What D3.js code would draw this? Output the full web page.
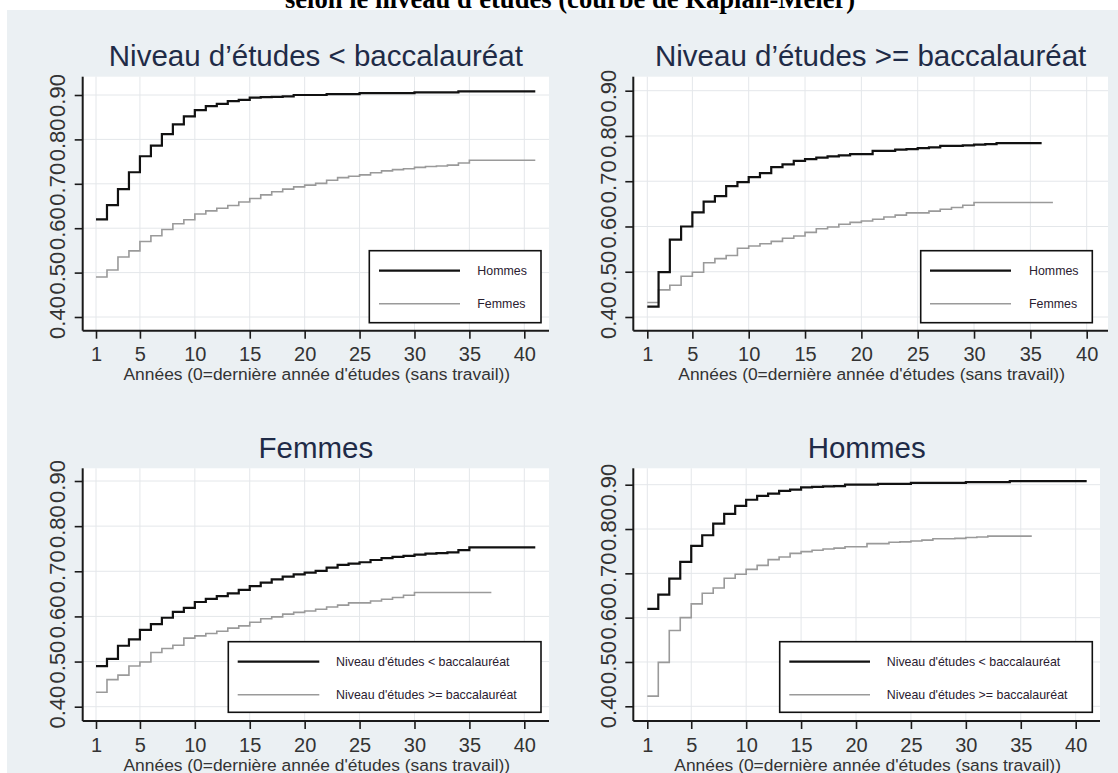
<!DOCTYPE html>
<html><head><meta charset="utf-8">
<script src="https://cdn.jsdelivr.net/npm/d3@7"></script>
<style>
html,body{margin:0;padding:0;background:#fff;}
svg{display:block;}
</style></head>
<body>
<svg id="chart" width="1118" height="773"></svg>
<script>
// ---------- DATA ----------
const mainTitle = "selon le niveau d'études (courbe de Kaplan-Meier)";
const panelTitles = ["Niveau d’études < baccalauréat", "Niveau d’études >= baccalauréat", "Femmes", "Hommes"];
const xAxisTitle = "Années (0=dernière année d'études (sans travail))";
const xTicks = [1, 5, 10, 15, 20, 25, 30, 35, 40];
const yTicks = [0.40, 0.50, 0.60, 0.70, 0.80, 0.90];
const yTickLabels = ["0.40", "0.50", "0.60", "0.70", "0.80", "0.90"];
const legendSexe = ["Hommes", "Femmes"];
const legendNiveau = ["Niveau d'études < baccalauréat", "Niveau d'études >= baccalauréat"];

// Kaplan-Meier estimates at years 1..N
const hommesInf = [0.620,0.652,0.688,0.726,0.762,0.786,0.812,0.834,0.852,0.866,
  0.875,0.880,0.886,0.889,0.894,0.895,0.896,0.897,0.900,0.900,
  0.900,0.902,0.902,0.902,0.904,0.904,0.904,0.904,0.904,0.906,
  0.906,0.906,0.906,0.908,0.908,0.908,0.908,0.908,0.908,0.908,0.908];
const hommesSup = [0.423,0.499,0.571,0.600,0.631,0.655,0.667,0.689,0.698,0.709,
  0.718,0.731,0.737,0.745,0.749,0.752,0.755,0.757,0.760,0.760,
  0.767,0.767,0.770,0.771,0.773,0.775,0.778,0.778,0.779,0.781,
  0.782,0.784,0.784,0.784,0.784,0.784];
const femmesInf = [0.490,0.506,0.535,0.549,0.570,0.583,0.597,0.610,0.619,0.632,
  0.639,0.645,0.651,0.659,0.667,0.675,0.682,0.688,0.693,0.697,
  0.701,0.708,0.714,0.717,0.720,0.725,0.729,0.732,0.734,0.737,
  0.739,0.740,0.742,0.747,0.753,0.753,0.753,0.753,0.753,0.753,0.753];
const femmesSup = [0.432,0.460,0.470,0.490,0.499,0.520,0.529,0.536,0.552,0.557,
  0.562,0.567,0.574,0.579,0.587,0.595,0.599,0.605,0.609,0.612,
  0.616,0.621,0.625,0.630,0.630,0.634,0.638,0.642,0.647,0.653,
  0.653,0.653,0.653,0.653,0.653,0.653,0.653];

// ---------- LAYOUT ----------
const panels = [
  {title: panelTitles[0], black: hommesInf, gray: femmesInf, legend: legendSexe,
   ax: 82.7, top: 76.7, right: 549, bottom: 330.7, x1: 96, x40: 524.3, y40: 317, y90: 95,
   lg: {x0: 369.3, x1: 541, y0: 250.7, y1: 322.7, l0: 379, l1: 460, tx: 477.3}},
  {title: panelTitles[1], black: hommesSup, gray: femmesSup, legend: legendSexe,
   ax: 633.3, top: 76.7, right: 1108, bottom: 330.7, x1: 647.3, x40: 1086.7, y40: 317, y90: 90.7,
   lg: {x0: 920.7, x1: 1092.3, y0: 250.7, y1: 322.7, l0: 930, l1: 1011, tx: 1029}},
  {title: panelTitles[2], black: femmesInf, gray: femmesSup, legend: legendNiveau,
   ax: 82.7, top: 468.3, right: 549, bottom: 721, x1: 96, x40: 524.3, y40: 706.7, y90: 481,
   lg: {x0: 228.3, x1: 541, y0: 641.7, y1: 712.3, l0: 237.7, l1: 319.3, tx: 336}},
  {title: panelTitles[3], black: hommesInf, gray: hommesSup, legend: legendNiveau,
   ax: 633.3, top: 468.3, right: 1100, bottom: 721, x1: 647.3, x40: 1075.7, y40: 706.3, y90: 484.7,
   lg: {x0: 789.3 - 9.6, x1: 1092.3, y0: 641.7, y1: 712.3, l0: 789.3, l1: 870, tx: 886.7}}
];

const svg = d3.select("#chart");
const SANS = "'Liberation Sans', Arial, Helvetica, sans-serif";

// background
svg.append("rect").attr("x", 7).attr("y", 10).attr("width", 1118 - 7).attr("height", 773 - 10).attr("fill", "#ebf0f3");

// main title (cut at top)
svg.append("text").attr("x", 570).attr("y", 7.5).attr("text-anchor", "middle")
  .attr("font-family", "'Liberation Serif', 'Times New Roman', serif").attr("font-weight", "bold")
  .attr("font-size", 26.6).attr("fill", "#000").text(mainTitle);

panels.forEach(p => {
  const g = svg.append("g");
  const x = d3.scaleLinear().domain([1, 40]).range([p.x1, p.x40]);
  const y = d3.scaleLinear().domain([0.40, 0.90]).range([p.y40, p.y90]);

  // plot region
  g.append("rect").attr("x", p.ax).attr("y", p.top).attr("width", p.right - p.ax).attr("height", p.bottom - p.top).attr("fill", "#fff");

  // grid
  g.selectAll(".vg").data(xTicks).join("line")
    .attr("x1", d => x(d)).attr("x2", d => x(d)).attr("y1", p.top).attr("y2", p.bottom)
    .attr("stroke", "#e4e7ea").attr("stroke-width", 1);
  g.selectAll(".hg").data(yTicks).join("line")
    .attr("x1", p.ax).attr("x2", p.right).attr("y1", d => y(d)).attr("y2", d => y(d))
    .attr("stroke", "#e4e7ea").attr("stroke-width", 1);

  // title
  g.append("text").attr("x", (p.ax + p.right) / 2).attr("y", p.top - 10.5).attr("text-anchor", "middle")
    .attr("font-family", SANS).attr("font-size", 29.5).attr("fill", "#1f2b47").text(p.title);

  // axes
  const xa = g.append("g").attr("transform", `translate(0,${p.bottom})`)
    .call(d3.axisBottom(x).tickValues(xTicks).tickSize(8).tickSizeOuter(0).tickFormat(d3.format("d")));
  xa.select(".domain").attr("d", `M${p.ax},0H${p.right}`).attr("stroke", "#1a1a1a").attr("stroke-width", 2);
  xa.selectAll(".tick line").attr("stroke", "#1a1a1a").attr("stroke-width", 1.6);
  xa.selectAll(".tick text").attr("y", 30.5).attr("dy", 0).attr("font-family", SANS).attr("font-size", 20).attr("fill", "#333");

  const ya = g.append("g").attr("transform", `translate(${p.ax},0)`)
    .call(d3.axisLeft(y).tickValues(yTicks).tickSize(8).tickSizeOuter(0).tickFormat((d, i) => yTickLabels[i]));
  ya.select(".domain").attr("d", `M0,${p.top}V${p.bottom}`).attr("stroke", "#1a1a1a").attr("stroke-width", 2);
  ya.selectAll(".tick line").attr("stroke", "#1a1a1a").attr("stroke-width", 1.6);
  ya.selectAll(".tick text").attr("x", 0).attr("dy", 0).attr("text-anchor", "middle")
    .attr("transform", "translate(-17.5,0) rotate(-90)")
    .attr("font-family", SANS).attr("font-size", 22).attr("fill", "#333");

  // x axis title
  g.append("text").attr("x", (p.ax + p.right) / 2 + 1).attr("y", p.bottom + 49.5).attr("text-anchor", "middle")
    .attr("font-family", SANS).attr("font-size", 17.4).attr("fill", "#333").text(xAxisTitle);

  // curves
  const line = d3.line().x((d, i) => x(i + 1)).y(d => y(d)).curve(d3.curveStepAfter);
  g.append("path").attr("d", line(p.gray)).attr("fill", "none").attr("stroke", "#9a9a9a").attr("stroke-width", 1.6);
  g.append("path").attr("d", line(p.black)).attr("fill", "none").attr("stroke", "#111").attr("stroke-width", 2.2);

  // legend
  const L = p.lg;
  g.append("rect").attr("x", L.x0).attr("y", L.y0).attr("width", L.x1 - L.x0).attr("height", L.y1 - L.y0)
    .attr("fill", "#fff").attr("stroke", "#111").attr("stroke-width", 1.6);
  const rows = [L.y0 + 20, L.y0 + 53];
  const styles = [{c: "#111", w: 2.2}, {c: "#9a9a9a", w: 1.6}];
  p.legend.forEach((t, i) => {
    g.append("line").attr("x1", L.l0).attr("x2", L.l1).attr("y1", rows[i]).attr("y2", rows[i])
      .attr("stroke", styles[i].c).attr("stroke-width", styles[i].w);
    g.append("text").attr("x", L.tx).attr("y", rows[i] + 4.3).attr("font-family", SANS)
      .attr("font-size", 12.4).attr("fill", "#2a2030").text(t);
  });
});
</script>
</body></html>
